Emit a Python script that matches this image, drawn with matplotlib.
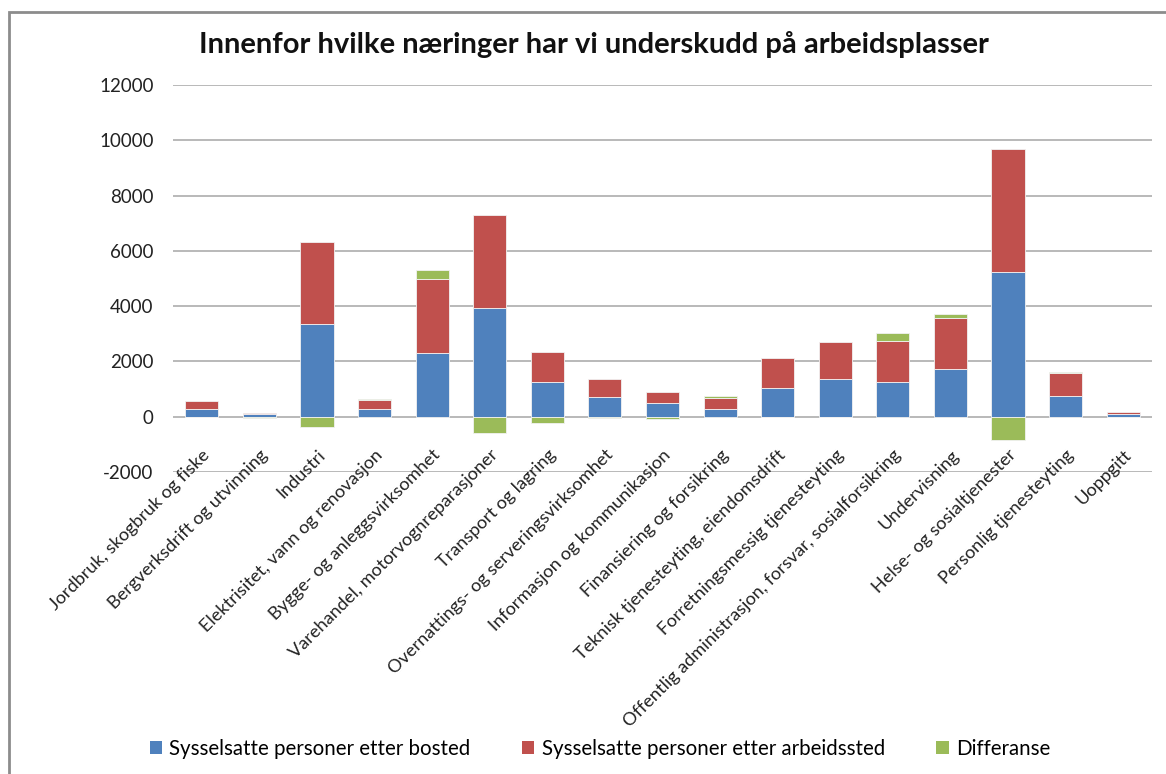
import matplotlib
matplotlib.use("Agg")
import matplotlib.pyplot as plt
from matplotlib.patches import Rectangle, Patch
import matplotlib.transforms as mtransforms
import numpy as np

categories = [
    "Jordbruk, skogbruk og fiske",
    "Bergverksdrift og utvinning",
    "Industri",
    "Elektrisitet, vann og renovasjon",
    "Bygge- og anleggsvirksomhet",
    "Varehandel, motorvognreparasjoner",
    "Transport og lagring",
    "Overnattings- og serveringsvirksomhet",
    "Informasjon og kommunikasjon",
    "Finansiering og forsikring",
    "Teknisk tjenesteyting, eiendomsdrift",
    "Forretningsmessig tjenesteyting",
    "Offentlig administrasjon, forsvar, sosialforsikring",
    "Undervisning",
    "Helse- og sosialtjenester",
    "Personlig tjenesteyting",
    "Uoppgitt",
]
bosted = [280, 90, 3360, 280, 2310, 3940, 1260, 705, 500, 280, 1055, 1380, 1250, 1720, 5240, 750, 85]
arbeidssted = [290, 50, 2970, 330, 2660, 3350, 1070, 665, 410, 390, 1070, 1310, 1500, 1855, 4440, 825, 80]
differanse = [-10, -60, -390, 30, 350, -590, -210, -60, -100, 70, -20, -20, 290, 145, -860, 45, -10]

series_names = ["Sysselsatte personer etter bosted",
                "Sysselsatte personer etter arbeidssted",
                "Differanse"]
colors = ["#4F81BD", "#C0504D", "#9BBB59"]
yticks = [-2000, 0, 2000, 4000, 6000, 8000, 10000, 12000]
title = "Innenfor hvilke næringer har vi underskudd på arbeidsplasser"

plt.rcParams['font.family'] = ['Lato', 'DejaVu Sans']

W, H = 1166, 774
fig = plt.figure(figsize=(W / 100, H / 100), dpi=100)
ax = fig.add_axes([173 / W, 1 - 472 / H, (1152 - 173) / W, (472 - 85) / H])

x = np.arange(len(categories))
width = 0.575
pos_bottom = np.zeros(len(categories))
neg_bottom = np.zeros(len(categories))
for vals, col in zip([bosted, arbeidssted, differanse], colors):
    vals = np.array(vals, dtype=float)
    bottoms = np.where(vals >= 0, pos_bottom, neg_bottom)
    ax.bar(x, vals, width, bottom=bottoms, color=col, edgecolor="#f2f2f2",
           linewidth=0.6, zorder=3)
    pos_bottom = pos_bottom + np.where(vals >= 0, vals, 0)
    neg_bottom = neg_bottom + np.where(vals < 0, vals, 0)

ax.set_xlim(-0.5, len(categories) - 0.5)
ax.set_ylim(-2000, 12000)
ax.set_yticks(yticks)
ax.set_yticklabels([str(v) for v in yticks], fontsize=13.5, color="#222222")
ax.tick_params(axis='y', length=0, pad=14)
ax.set_xticks([])
ax.grid(axis='y', color="#b3b3b3", linewidth=1.3, zorder=0)
for s in ax.spines.values():
    s.set_visible(False)

for i, lab in enumerate(categories):
    tr = mtransforms.offset_copy(ax.transData, fig=fig, x=0, y=-30, units='dots')
    ax.text(i, 0, lab, rotation=45, ha='right', va='top', rotation_mode='anchor',
            fontsize=13.1, color="#222222", transform=tr, clip_on=False)

fig.text(594 / W, 1 - 45 / H, title, ha='center', va='center',
         fontsize=21, fontweight='bold', color="#111111")

handles = [Patch(facecolor=c, edgecolor='none') for c in colors]
fig.legend(handles, series_names, loc='center', bbox_to_anchor=(600 / W, 1 - 749 / H),
           ncol=3, frameon=False, fontsize=14.8, handlelength=0.6, handleheight=0.6,
           columnspacing=2.5, handletextpad=0.35)

fig.patches.append(Rectangle((9 / W, -0.05), 1.1, 1 - 12 / H + 0.05, transform=fig.transFigure,
                             fill=False, edgecolor="#8c8c8c", linewidth=2, clip_on=False))

fig.savefig("out.png", dpi=100)
